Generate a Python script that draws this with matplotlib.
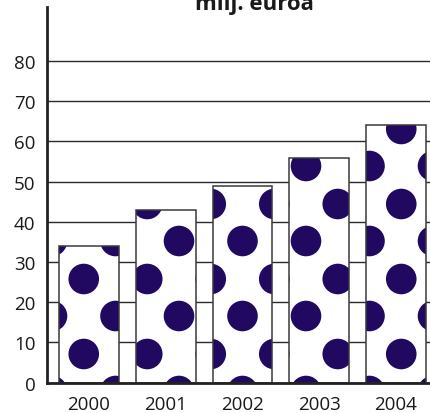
import matplotlib
matplotlib.use("Agg")
import matplotlib.pyplot as plt
import numpy as np
from matplotlib.patches import Circle
from matplotlib.collections import PatchCollection

# === DATA ===
years = ["2000", "2001", "2002", "2003", "2004"]
values = [33.9, 42.8, 49.0, 55.8, 64.1]
yticks = [0, 10, 20, 30, 40, 50, 60, 70, 80]
title = "milj. euroa"

# === STYLE ===
plt.rcParams['font.family'] = ['Open Sans', 'DejaVu Sans']
dot_color = "#210961"
W, H = 430, 414

fig = plt.figure(figsize=(W / 100, H / 100), dpi=100)
ax = fig.add_axes([46.7 / W, 1 - 383.6 / H, 1 - 46.7 / W, (383.6 - 8) / H])

x = np.arange(len(years))
bars = ax.bar(x, values, width=0.78, color="white", edgecolor="none",
              linewidth=0, zorder=2)

# polka dot fill, pattern fixed on the page and clipped to each bar
step_x, step_y, rad = 31.75, 75.0, 15.3
for b in bars:
    circles = []
    for k in range(-1, 15):
        cx = 52 + step_x * k
        y0 = 167 if k % 2 == 0 else 130
        for m in range(-4, 5):
            cy = y0 + step_y * m
            circles.append(Circle((cx / 100, (H - cy) / 100), rad / 100))
    pc = PatchCollection(circles, facecolor=dot_color, edgecolor="none",
                         transform=fig.dpi_scale_trans, zorder=3)
    ax.add_collection(pc, autolim=False)
    pc.set_clip_path(b)

# bar outlines on top of the dots
ax.bar(x, values, width=0.78, fill=False, edgecolor="#3a3a3a",
       linewidth=1.1, zorder=4)

ax.set_xlim(-0.551, 4.443)
ax.set_ylim(0, 93.4)
ax.set_yticks(yticks)
ax.set_xticks(x)
ax.set_xticklabels(years)
ax.tick_params(length=0, labelsize=13.5, colors="#1a1a1a")
ax.tick_params(axis="y", pad=8)
ax.tick_params(axis="x", pad=9)

ax.set_axisbelow(True)
ax.yaxis.grid(True, color="#2a2a2a", linewidth=1.0)
for s in ["top", "right"]:
    ax.spines[s].set_visible(False)
for s in ["left", "bottom"]:
    ax.spines[s].set_linewidth(2.0)
    ax.spines[s].set_color("#222222")
    ax.spines[s].set_zorder(5)

fig.text(254 / W, 1 - 10 / H, title, ha="center", va="baseline",
         fontsize=16, fontweight="bold", color="#1a1a1a")

plt.savefig("out.png", dpi=100)
plt.close()
